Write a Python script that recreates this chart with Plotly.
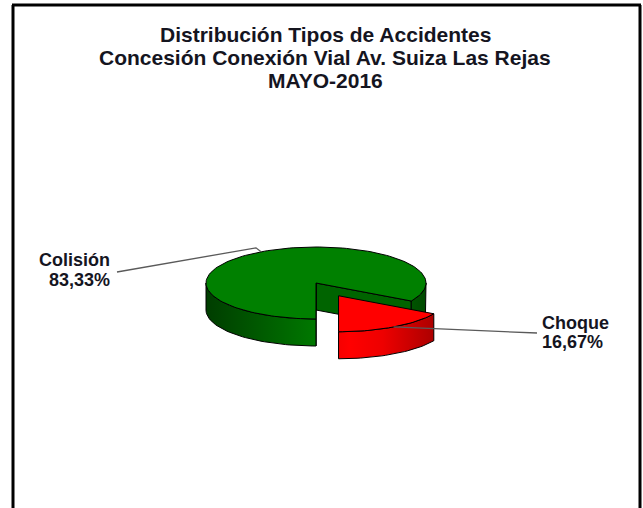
import numpy as np
import plotly.graph_objects as go

# ---- data ----
categories = ["Colisión", "Choque"]
values = [83.33, 16.67]
pct_labels = ["83,33%", "16,67%"]
title_lines = ["Distribución Tipos de Accidentes",
               "Concesión Conexión Vial Av. Suiza Las Rejas",
               "MAYO-2016"]

# ---- styling / geometry (layout constants, pixel space) ----
W, H = 643, 508
CX, CY = 316, 283          # pie centre
RA, RB = 110, 36           # ellipse radii
DEPTH = 27                 # pie thickness
START = -30                # start angle (deg, ccw)
explode = [0.0, 0.41]
top_colors = ["#008000", "#FF0000"]
inner_colors = ["#006400", "#B00000"]
side_scales = [
    [[0, "#003d00"], [0.5, "#007800"], [0.62, "#008000"], [1, "#004a00"]],
    [[0, "#990000"], [0.55, "#ff0000"], [0.7, "#ee0000"], [1, "#990000"]],
]
label_pos = [dict(x=112, y1=260, y2=280, anchor="right", lx=117, ly=272),
             dict(x=540, y1=323, y2=342, anchor="left", lx=537, ly=333)]
FONT = "Liberation Sans, Arial, sans-serif"
TXT = "#15151f"

fig = go.Figure()


def pt(theta, dx=0.0, dy=0.0):
    t = np.radians(theta)
    return CX + dx + RA * np.cos(t), CY + dy - RB * np.sin(t)


def arc(t0, t1, dx=0.0, dy=0.0, n=None):
    n = n or max(4, int(abs(t1 - t0) / 2) + 2)
    th = np.linspace(t0, t1, n)
    x, y = pt(th, dx, dy)
    return list(x), list(y)


def poly(xs, ys, fill=None, grad=None):
    kw = dict(x=xs + [xs[0]], y=ys + [ys[0]], mode="lines", fill="toself",
              line=dict(color="black", width=1), hoverinfo="skip",
              showlegend=False)
    if grad is not None:
        kw["fillgradient"] = grad
    else:
        kw["fillcolor"] = fill
    fig.add_trace(go.Scatter(**kw))


total = sum(values)
angles = []
a = START
for v in values:
    span = v / total * 360.0
    angles.append((a, a + span))
    a += span

slices = []
for i, (t0, t1) in enumerate(angles):
    mid = (t0 + t1) / 2
    m = np.radians(mid)
    dx = explode[i] * RA * np.cos(m)
    dy = -explode[i] * RB * np.sin(m)
    slices.append(dict(i=i, t0=t0, t1=t1, mid=mid, dx=dx, dy=dy))

# back slices first
order = sorted(slices, key=lambda s: -np.sin(np.radians(s["mid"])))
for s in order:
    i, t0, t1, dx, dy = s["i"], s["t0"], s["t1"], s["dx"], s["dy"]
    cx, cy = CX + dx, CY + dy
    # radial inner walls
    for t, sign in ((t0, 1), (t1, -1)):
        c = np.cos(np.radians(t))
        if sign * c > 1e-6:
            ex, ey = pt(t, dx, dy)
            poly([cx, ex, ex, cx], [cy, ey, ey + DEPTH, cy + DEPTH],
                 fill=inner_colors[i])
    # outer side walls (front half only)
    for k in (-1, 0, 1):
        lo, hi = 180 + 360 * k, 360 + 360 * k
        a0, a1 = max(t0, lo), min(t1, hi)
        if a1 - a0 > 0.1:
            xt, yt = arc(a0, a1, dx, dy)
            xb, yb = arc(a1, a0, dx, dy + DEPTH)
            poly(xt + xb, yt + yb,
                 grad=dict(type="horizontal", colorscale=side_scales[i],
                           start=CX + dx - RA, stop=CX + dx + RA))
    # top face
    xt, yt = arc(t0, t1, dx, dy)
    poly([cx] + xt, [cy] + yt, fill=top_colors[i])

# leader lines + labels
for s in slices:
    i = s["i"]
    ex, ey = pt(s["mid"], s["dx"], s["dy"])
    lp = label_pos[i]
    if np.cos(np.radians(s["mid"])) < 0:
        xs, ys = [ex, ex - 5, lp["lx"]], [ey, ey - 4, lp["ly"]]
    else:
        xs, ys = [ex, lp["lx"]], [ey, lp["ly"]]
    fig.add_trace(go.Scatter(x=xs, y=ys, mode="lines",
                             line=dict(color="#5a5a5a", width=1.3),
                             hoverinfo="skip", showlegend=False))
    for txt, yy in ((categories[i], lp["y1"]), (pct_labels[i], lp["y2"])):
        fig.add_annotation(x=lp["x"], y=yy, xref="x", yref="y",
                           text="<b>" + txt + "</b>", showarrow=False,
                           xanchor=lp["anchor"], yanchor="middle",
                           font=dict(family=FONT, size=18, color=TXT))

for line, yy in zip(title_lines, [34, 57, 80]):
    fig.add_annotation(x=325, y=yy, xref="x", yref="y",
                       text="<b>" + line + "</b>", showarrow=False,
                       xanchor="center", yanchor="middle",
                       font=dict(family=FONT, size=21, color=TXT))

# frame
for x0, y0, x1, y1 in ((13, 5, 13, 520), (12, 5, 641, 5), (640, 5, 640, 520)):
    fig.add_shape(type="line", x0=x0, y0=y0, x1=x1, y1=y1, xref="x", yref="y",
                  line=dict(color="black", width=3))

fig.update_layout(
    width=W, height=H, margin=dict(l=0, r=0, t=0, b=0),
    paper_bgcolor="white", plot_bgcolor="white",
    xaxis=dict(range=[0, W], visible=False, fixedrange=True),
    yaxis=dict(range=[H, 0], visible=False, fixedrange=True),
)
fig.write_html("out.html", config={"displayModeBar": False},
               post_script="document.body.style.margin='0';"
                           "document.body.style.padding='0';"
                           "document.body.style.overflow='hidden';")
